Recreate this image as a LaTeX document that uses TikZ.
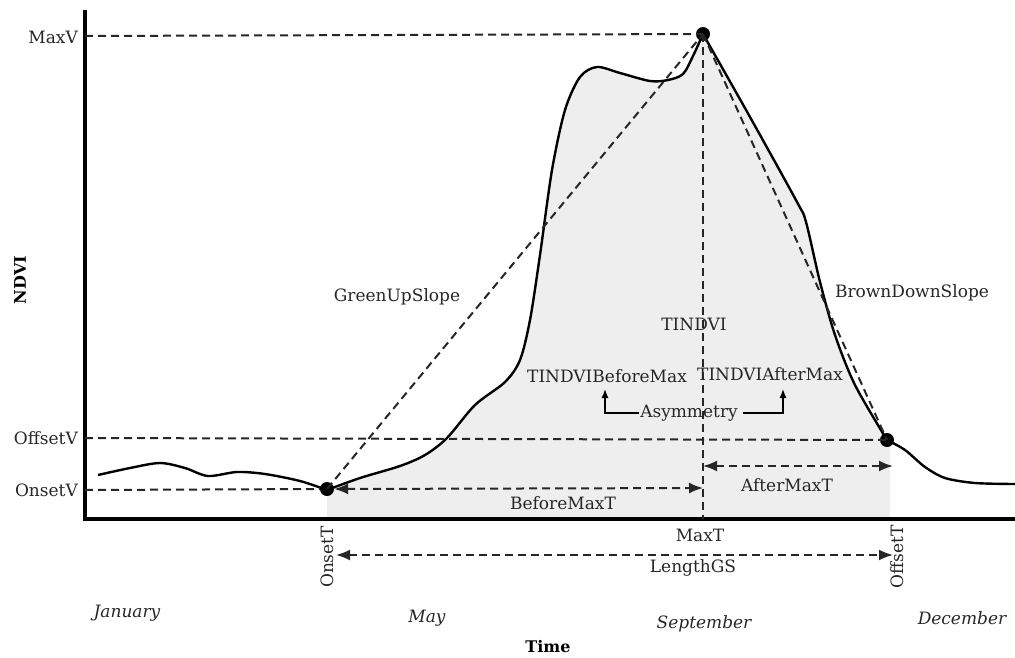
\documentclass[tikz,border=0pt]{standalone}
\usepackage{fontspec}
\setmainfont{DejaVu Serif}
\usetikzlibrary{arrows.meta}
\begin{document}
\begin{tikzpicture}[x=1pt,y=-1pt,
 dsh/.style={line width=2pt, dash pattern=on 8pt off 5pt, black!85},
 darr/.style={dsh, {Latex[length=14pt,width=11pt]}-{Latex[length=14pt,width=11pt]}},
 lbl/.style={font=\fontsize{17}{20}\selectfont, inner sep=0pt, text=black!85},
 mon/.style={font=\fontsize{17}{20}\selectfont\itshape, inner sep=0pt, text=black!85},
 bld/.style={font=\fontsize{16}{19}\selectfont\bfseries, inner sep=0pt},
 dot/.style={circle, fill=black, inner sep=0pt, minimum size=14pt},
 crv/.style={line width=2.4pt, line join=round}]
\useasboundingbox (0,0) rectangle (1015,657);
% fill
\fill[gray!13] plot[smooth] coordinates {(327,490) (360,478) (400,466) (425,455) (447,438) (475,405) (505,382) (520,360) (530,320) (540,255) (552,170) (565,110) (580,77) (597,67) (620,73) (650,81) (668,80) (683,74) (693,56) (703,34)}
 -- plot[smooth] coordinates {(703,34) (750,117) (797,202) (806,222) (820,282) (835,335) (855,385) (887,440)}
 -- (890,440) -- (890,519) -- (327,519) -- cycle;
% axes
\coordinate (o) at (85,519);
\coordinate (ytop) at (85,10);
\coordinate (xend) at (1015,519);
\draw[line width=3.4pt] (ytop) -- (o) -- (xend);
% curve
\draw[crv] plot[smooth] coordinates {(98,475) (130,468) (160,463) (185,468) (208,476) (237,472) (265,474) (300,481) (327,490)};
\draw[crv] plot[smooth] coordinates {(327,490) (360,478) (400,466) (425,455) (447,438) (475,405) (505,382) (520,360) (530,320) (540,255) (552,170) (565,110) (580,77) (597,67) (620,73) (650,81) (668,80) (683,74) (693,56) (703,34)};
\draw[crv] plot[smooth] coordinates {(703,34) (750,117) (797,202) (806,222) (820,282) (835,335) (855,385) (887,440)};
\draw[crv] plot[smooth] coordinates {(887,440) (905,450) (925,467) (945,478) (975,483) (1015,484)};
% points
\node[dot] (onset) at (327,489) {};
\node[dot] (peak) at (703,34) {};
\node[dot] (offset) at (887,440) {};
% axis labels
\node[lbl, anchor=east] (maxv) at (78,37) {MaxV};
\node[lbl, anchor=east] (offv) at (78,438) {OffsetV};
\node[lbl, anchor=east] (onv) at (78,490) {OnsetV};
\coordinate (ymax) at (85,36);
\coordinate (yoff) at (85,438);
\coordinate (yon) at (85,490);
\draw[dsh] (ymax) -- (peak.center);
\draw[dsh] (yoff) -- (offset.center);
\draw[dsh] (yon) -- (onset.west);
\draw[dsh] (onset.center) -- (peak.center);
\draw[dsh] (peak.center) -- (offset.center);
\coordinate (maxtbase) at (703,519);
\draw[dsh] (peak.center) -- (maxtbase);
% arrows
\coordinate (bmR) at (703,488);
\draw[darr] (onset.east) -- (bmR);
\coordinate (amL) at (703,466);
\coordinate (amR) at (893,466);
\draw[darr] (amL) -- (amR);
\node[lbl] (bmt) at (563,503) {BeforeMaxT};
\node[lbl] (amt) at (787,485) {AfterMaxT};
\node[lbl] (maxt) at (700,535) {MaxT};
\node[lbl, rotate=90] (onsett) at (327,557) {OnsetT};
\node[lbl, rotate=90] (offsett) at (897,557) {OffsetT};
\coordinate (lgL) at (336,555);
\coordinate (lgR) at (893,555);
\draw[darr] (lgL) -- (lgR);
\node[lbl] (lgs) at (693,568) {LengthGS};
% slope labels
\node[lbl] (gus) at (397,297) {GreenUpSlope};
\node[lbl] (bds) at (912,293) {BrownDownSlope};
\node[lbl] (tnd) at (694,324) {TINDVI};
\node[lbl] (tbm) at (607,376) {TINDVIBeforeMax};
\node[lbl] (tam) at (770,374) {TINDVIAfterMax};
\node[lbl] (asym) at (689,413) {Asymmetry};
\coordinate (aL) at (605,389);
\coordinate (aR) at (783,389);
\draw[line width=1.3pt, -{Latex[length=9pt,width=7pt]}] ([xshift=-1pt]asym.west) -| (aL);
\draw[line width=1.3pt, -{Latex[length=9pt,width=7pt]}] ([xshift=5pt]asym.east) -| (aR);
% months
\node[mon] (jan) at (127,613) {January};
\node[mon] (may) at (427,618) {May};
\node[mon] (sep) at (704,624) {September};
\node[mon] (dec) at (962,618) {December};
\node[bld] (time) at (548,647) {Time};
\node[bld, rotate=90] (ndvi) at (20,280) {NDVI};
\end{tikzpicture}
\end{document}
